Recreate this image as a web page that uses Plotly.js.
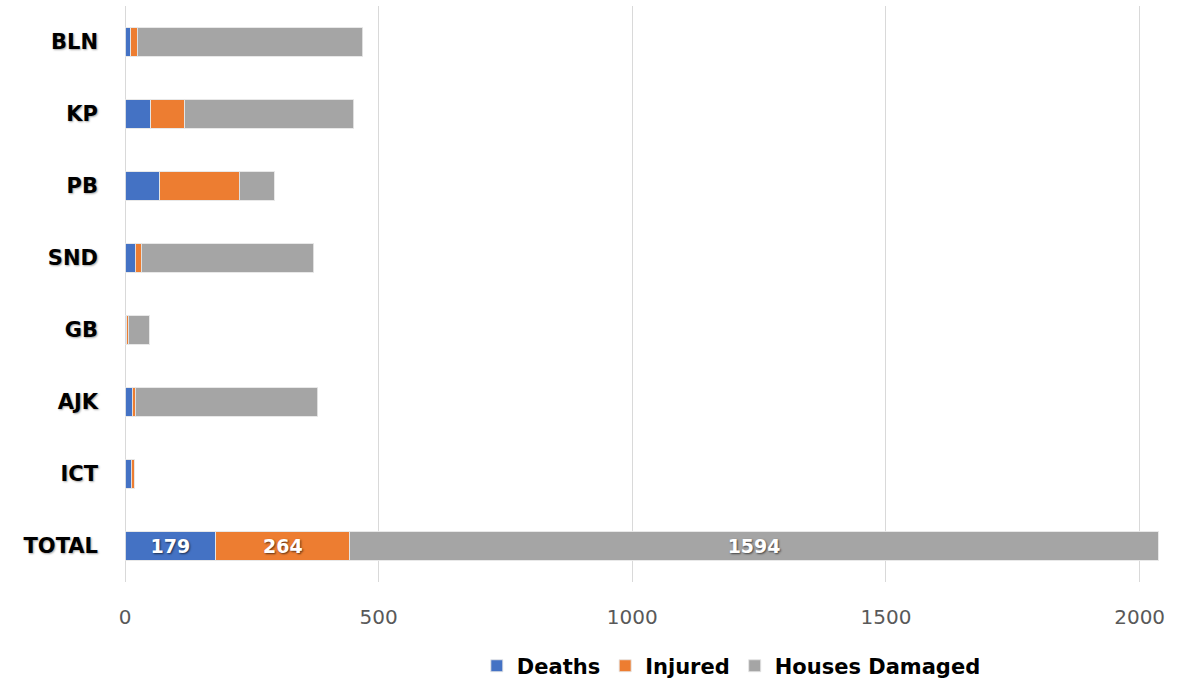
<!DOCTYPE html>
<html>
<head>
<meta charset="utf-8">
<script src="https://cdn.plot.ly/plotly-3.0.1.min.js"></script>
<style>html,body{margin:0;padding:0;background:#fff;}#chart{width:1199px;height:681px;}</style>
</head>
<body>
<div id="chart"></div>
<script>
const categories = ['BLN', 'KP', 'PB', 'SND', 'GB', 'AJK', 'ICT', 'TOTAL'];
const deaths  = [11, 51, 68, 20, 3, 14, 12, 179];
const injured = [13, 67, 157, 12, 3, 6, 6, 264];
const houses  = [445, 333, 69, 340, 42, 360, 0, 1594];
const seriesNames = ['Deaths', 'Injured', 'Houses Damaged'];
const colors = ['#4472C4', '#ED7D31', '#A5A5A5'];
const xTicks = [0, 500, 1000, 1500, 2000];

const FONT = '"DejaVu Sans", "Open Sans", sans-serif';
const labelFor = vals => vals.map((v, i) => categories[i] === 'TOTAL' ? String(v) : '');

const traces = [deaths, injured, houses].map((vals, k) => ({
  type: 'bar',
  orientation: 'h',
  name: seriesNames[k],
  y: categories,
  x: vals,
  text: labelFor(vals),
  textposition: 'inside',
  insidetextanchor: 'middle',
  textangle: 0,
  constraintext: 'none',
  textfont: {family: FONT, size: 19, color: '#ffffff', weight: 'bold', shadow: '1px 1px 2px rgba(0,0,0,0.6)'},
  marker: {color: colors[k], line: {color: 'rgba(230,230,230,0.9)', width: 1}},
  hoverinfo: 'x+y+name'
}));

const layout = {
  width: 1199, height: 681,
  barmode: 'stack',
  bargap: 0.61,
  margin: {l: 125, r: 34, t: 6, b: 99, autoexpand: false},
  paper_bgcolor: '#ffffff',
  plot_bgcolor: '#ffffff',
  font: {family: FONT},
  xaxis: {
    range: [0, 2050],
    tickvals: xTicks,
    ticktext: xTicks.map(String),
    showgrid: true,
    gridcolor: '#d9d9d9',
    gridwidth: 1,
    zeroline: true,
    zerolinecolor: '#d9d9d9',
    zerolinewidth: 1,
    showline: false,
    ticks: '',
    tickfont: {family: FONT, size: 20, color: '#595959'},
    ticklabelstandoff: 21,
    automargin: false
  },
  yaxis: {
    autorange: 'reversed',
    type: 'category',
    showgrid: false,
    zeroline: false,
    showline: false,
    ticks: '',
    tickfont: {family: FONT, size: 21, color: '#000000', weight: 'bold', shadow: '1px 1px 2px rgba(0,0,0,0.35)'},
    ticklabelstandoff: 26,
    automargin: false
  },
  showlegend: true,
  legend: {
    orientation: 'h',
    x: 0.583, xanchor: 'center',
    y: -0.146, yanchor: 'middle',
    font: {family: FONT, size: 21, color: '#000000', weight: 'bold'},
    itemwidth: 30,
    traceorder: 'normal'
  }
};

Plotly.newPlot('chart', traces, layout, {displayModeBar: false, staticPlot: true});
</script>
</body>
</html>
